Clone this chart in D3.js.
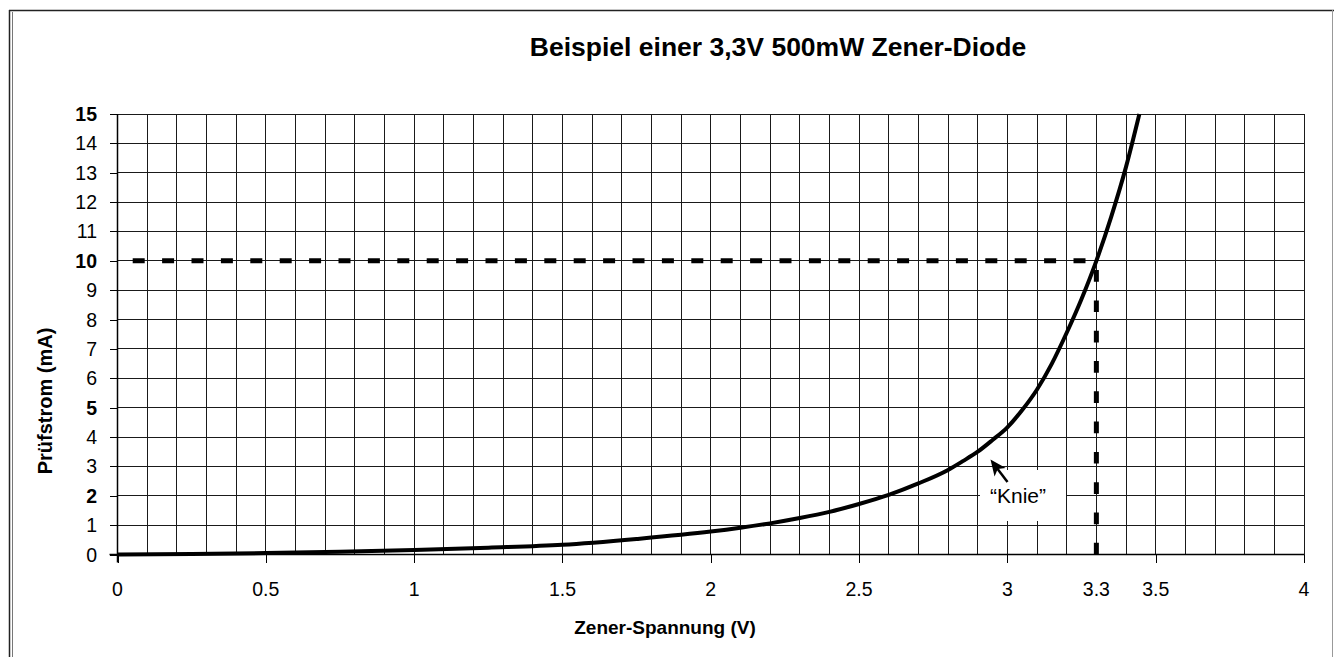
<!DOCTYPE html>
<html>
<head>
<meta charset="utf-8">
<script src="https://cdn.jsdelivr.net/npm/d3@7"></script>
<style>
    body { margin: 0; background: #fff; }
    svg { display: block; font-family: Arial, 'Liberation Sans', sans-serif; }
</style>
</head>
<body>
<script>
// curve: voltage (V) against current (mA)
const voltage = [0, 0.25, 0.5, 0.75, 1.0, 1.25, 1.5, 1.75, 2.0, 2.1, 2.2, 2.3, 2.4, 2.5, 2.6, 2.7, 2.8, 2.85, 2.9, 2.95, 3.0, 3.05, 3.1, 3.15, 3.2, 3.25, 3.3, 3.35, 3.4, 3.445]
const current = [0, 0.02, 0.05, 0.09, 0.15, 0.23, 0.33, 0.53, 0.78, 0.91, 1.06, 1.24, 1.45, 1.72, 2.03, 2.42, 2.88, 3.18, 3.5, 3.9, 4.33, 4.92, 5.62, 6.5, 7.55, 8.7, 10, 11.5, 13.2, 15]

const xTicks = [0, 0.5, 1, 1.5, 2, 2.5, 3, 3.3, 3.5, 4]
const yTicks = d3.range(0, 16)
const yBold = [2, 5, 10, 15]

// operating point
const testVoltage = 3.3
const testCurrent = 10

const WIDTH = 1334
const HEIGHT = 657

const svg = d3.select('body').append('svg')
    .attr('width', WIDTH)
    .attr('height', HEIGHT)

// outer frame, double line on the left
svg.append('line').attr('x1', 9).attr('x2', WIDTH).attr('y1', 10.5).attr('y2', 10.5)
    .attr('stroke', '#222').attr('stroke-width', 1.5)
svg.append('line').attr('x1', 9.5).attr('x2', 9.5).attr('y1', 10).attr('y2', HEIGHT)
    .attr('stroke', '#222').attr('stroke-width', 1.5)
svg.append('line').attr('x1', 12.5).attr('x2', 12.5).attr('y1', 12).attr('y2', HEIGHT)
    .attr('stroke', '#777').attr('stroke-width', 1)
svg.append('line').attr('x1', 1332.5).attr('x2', 1332.5).attr('y1', 10).attr('y2', HEIGHT)
    .attr('stroke', '#999').attr('stroke-width', 1)

const x = d3.scaleLinear().domain([0, 4]).range([117.5, 1304])
const y = d3.scaleLinear().domain([0, 15]).range([554.5, 114])

// grid, every 0.1 V and every 1 mA
const grid = svg.append('g')
    .attr('stroke', '#1a1a1a')
    .attr('stroke-width', 1)
    .attr('shape-rendering', 'crispEdges')

grid.selectAll('.vgrid')
    .data(d3.range(0, 41).map(i => i / 10))
    .join('line')
    .attr('x1', d => x(d)).attr('x2', d => x(d))
    .attr('y1', y(15)).attr('y2', y(0))

grid.selectAll('.hgrid')
    .data(yTicks)
    .join('line')
    .attr('x1', x(0)).attr('x2', x(4))
    .attr('y1', d => y(d)).attr('y2', d => y(d))

// axes
const xAxis = svg.append('g')
    .attr('transform', `translate(0, ${y(0)})`)
    .call(d3.axisBottom(x).tickValues(xTicks.filter(d => d !== 3.3)).tickSize(8).tickFormat(''))
xAxis.select('.domain').remove()
xAxis.selectAll('line').attr('stroke', '#000').attr('shape-rendering', 'crispEdges')

svg.append('g')
    .selectAll('text')
    .data(xTicks)
    .join('text')
    .attr('x', d => x(d))
    .attr('y', 596)
    .attr('text-anchor', 'middle')
    .attr('font-size', 19.5)
    .text(d => d)

const yAxis = svg.append('g')
    .attr('transform', `translate(${x(0)}, 0)`)
    .call(d3.axisLeft(y).tickValues(yTicks).tickSize(8).tickFormat(''))
yAxis.select('.domain').remove()
yAxis.selectAll('line').attr('stroke', '#000').attr('shape-rendering', 'crispEdges')

svg.append('g')
    .selectAll('text')
    .data(yTicks)
    .join('text')
    .attr('x', 97)
    .attr('y', d => y(d) + 7)
    .attr('text-anchor', 'end')
    .attr('font-size', 19.5)
    .attr('font-weight', d => yBold.includes(d) ? 'bold' : 'normal')
    .text(d => d)

// axis lines on top of grid
svg.append('line').attr('x1', x(0)).attr('x2', x(0)).attr('y1', y(15)).attr('y2', y(0) + 8)
    .attr('stroke', '#000').attr('stroke-width', 1.5)
svg.append('line').attr('x1', x(0) - 8).attr('x2', x(4)).attr('y1', y(0)).attr('y2', y(0))
    .attr('stroke', '#000').attr('stroke-width', 1.5)

// dashed guides to the operating point
svg.append('line')
    .attr('x1', x(0)).attr('x2', x(testVoltage))
    .attr('y1', y(testCurrent)).attr('y2', y(testCurrent))
    .attr('stroke', '#000').attr('stroke-width', 5)
    .attr('stroke-dasharray', '12 17.4')
    .attr('stroke-dashoffset', 14.2)

svg.append('line')
    .attr('x1', x(testVoltage)).attr('x2', x(testVoltage))
    .attr('y1', y(0)).attr('y2', y(testCurrent))
    .attr('stroke', '#000').attr('stroke-width', 5)
    .attr('stroke-dasharray', '11.7 18.6')

// the diode curve
const points = voltage.map((v, i) => [v, current[i]])
svg.append('path')
    .datum(points)
    .attr('fill', 'none')
    .attr('stroke', '#000')
    .attr('stroke-width', 4)
    .attr('stroke-linejoin', 'round')
    .attr('d', d3.line().x(d => x(d[0])).y(d => y(d[1])).curve(d3.curveMonotoneX))

// "Knie" annotation
svg.append('rect')
    .attr('x', 980).attr('y', 470)
    .attr('width', 86).attr('height', 51)
    .attr('fill', '#fff')

svg.append('text')
    .attr('x', 1018)
    .attr('y', 503)
    .attr('text-anchor', 'middle')
    .attr('font-size', 21)
    .text('\u201cKnie\u201d')

const tip = [990.5, 459.5]
const tail = [1007.5, 482]
const ang = Math.atan2(tail[1] - tip[1], tail[0] - tip[0])
svg.append('line')
    .attr('x1', tip[0] + 8 * Math.cos(ang)).attr('y1', tip[1] + 8 * Math.sin(ang))
    .attr('x2', tail[0]).attr('y2', tail[1])
    .attr('stroke', '#000').attr('stroke-width', 2.5)
const head = [
    [0, 0], [16, -7], [12, 0], [16, 7]
].map(([a, b]) => [
    tip[0] + a * Math.cos(ang) - b * Math.sin(ang),
    tip[1] + a * Math.sin(ang) + b * Math.cos(ang)
])
svg.append('path')
    .attr('d', d3.line()(head) + 'Z')
    .attr('fill', '#000')

// titles
svg.append('text')
    .attr('x', 778)
    .attr('y', 56)
    .attr('text-anchor', 'middle')
    .attr('font-size', 26.5)
    .attr('font-weight', 'bold')
    .text('Beispiel einer 3,3V 500mW Zener-Diode')

svg.append('text')
    .attr('x', 665)
    .attr('y', 634)
    .attr('text-anchor', 'middle')
    .attr('font-size', 19)
    .attr('font-weight', 'bold')
    .text('Zener-Spannung (V)')

svg.append('text')
    .attr('transform', `translate(52, ${401}) rotate(-90)`)
    .attr('text-anchor', 'middle')
    .attr('font-size', 20)
    .attr('font-weight', 'bold')
    .text('Prüfstrom (mA)')
</script>
</body>
</html>
